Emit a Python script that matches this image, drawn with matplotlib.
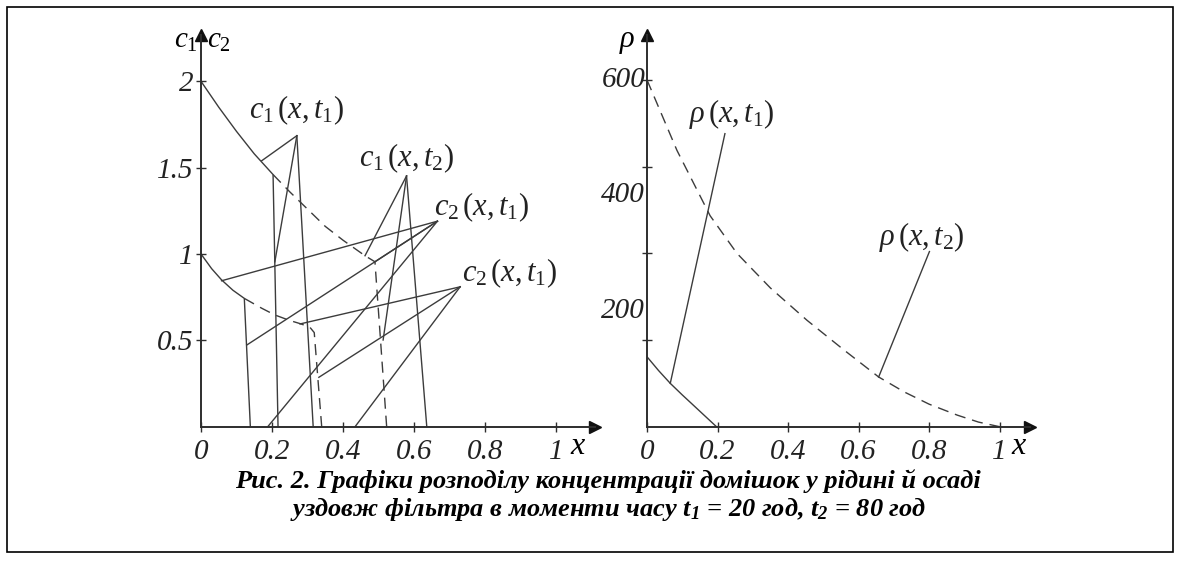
import matplotlib.pyplot as plt
from matplotlib.patches import Rectangle

plt.rcParams['mathtext.fontset'] = 'custom'
plt.rcParams['mathtext.it'] = 'Liberation Serif:italic'
plt.rcParams['mathtext.rm'] = 'Liberation Serif'
plt.rcParams['mathtext.bf'] = 'Liberation Serif:bold:italic'

# --- left panel: c1, c2 ---
c1_t1_x = [0, 0.05, 0.10, 0.15, 0.203, 0.217]
c1_t1_y = [2.0, 1.85, 1.71, 1.58, 1.46, 0]
c1_t2_x = [0.203, 0.25, 0.30, 0.35, 0.40, 0.462, 0.49, 0.523]
c1_t2_y = [1.46, 1.36, 1.26, 1.16, 1.08, 0.99, 0.955, 0]
c2_t1_x = [0, 0.03, 0.058, 0.09, 0.122, 0.139]
c2_t1_y = [1.0, 0.915, 0.85, 0.79, 0.743, 0]
c2_t2_x = [0.122, 0.171, 0.208, 0.25, 0.282, 0.307, 0.319, 0.34]
c2_t2_y = [0.743, 0.686, 0.647, 0.615, 0.595, 0.575, 0.545, 0]

# leader lines: apex -> targets
left_leaders = [
    ((0.27, 1.685), [(0.171, 1.54), (0.208, 0.955), (0.316, 0)]),
    ((0.579, 1.452), [(0.462, 0.99), (0.513, 0.502), (0.636, 0)]),
    ((0.666, 1.19), [(0.058, 0.845), (0.129, 0.473), (0.49, 0.955), (0.188, 0)]),
    ((0.73, 0.81), [(0.279, 0.595), (0.332, 0.286), (0.434, 0)]),
]
left_labels = [r'$c_1\,(x,t_1)$', r'$c_1\,(x,t_2)$',
               r'$c_2\,(x,t_1)$', r'$c_2\,(x,t_1)$']
left_label_pos = [(0.27, 1.83), (0.58, 1.556), (0.79, 1.272), (0.87, 0.89)]
left_xticks = [0, 0.2, 0.4, 0.6, 0.8, 1]
left_xticklabels = ['0', '0.2', '0.4', '0.6', '0.8', '1']
left_yticks = [0.5, 1, 1.5, 2]
left_yticklabels = ['0.5', '1', '1.5', '2']

# --- right panel: rho ---
rho_t1_x = [0, 0.033, 0.066, 0.1, 0.123, 0.16, 0.197]
rho_t1_y = [121, 97, 75, 55, 42, 21, 0]
rho_t2_x = [0, 0.085, 0.179, 0.255, 0.35, 0.454, 0.558, 0.657, 0.73, 0.8, 0.88, 0.94, 1.0]
rho_t2_y = [600, 478, 365, 300, 240, 184, 133, 86, 60, 39, 20, 8, 0]
right_leaders = [((0.221, 507), (0.066, 75)), ((0.801, 303), (0.657, 86))]
right_labels = [r'$\rho\,(x,t_1)$', r'$\rho\,(x,t_2)$']
right_label_pos = [(0.24, 541), (0.779, 329)]
right_xticks = [0, 0.2, 0.4, 0.6, 0.8, 1]
right_yticks = [150, 300, 450, 600]
right_ylabels = [200, 400, 600]

line_col = '#3c3c3c'
axis_col = '#2e2e2e'
lw = 1.0
dash = (0, (8, 5))
tick_font = dict(family='Liberation Serif', style='italic', size=21, color='#222222')
lab_size = 22

fig = plt.figure(figsize=(11.81, 5.63), dpi=100)
W, H = 1181, 563


def fx(px):
    return px / W


def fy(py):
    return 1 - py / H


def setup(ax):
    for s in ['top', 'right']:
        ax.spines[s].set_visible(False)
    for s in ['left', 'bottom']:
        ax.spines[s].set_color(axis_col)
        ax.spines[s].set_linewidth(1.4)
    ax.tick_params(direction='inout', length=7, width=1.0, color=axis_col, pad=2)
    ax.tick_params(axis='x', pad=5)
    ax.plot(1, 0, '>', color='#111111', ms=9, transform=ax.transAxes, clip_on=False)
    ax.plot(0, 1, '^', color='#111111', ms=9, transform=ax.transAxes, clip_on=False)
    ax.set_facecolor('none')


# left axes: x 0 at 201px, 355 px/unit; y 0 at 426.7px, 172.7 px/unit
ax1 = fig.add_axes([fx(201), 1 - 426.7 / H, 394 / W, 391.7 / H])
ax1.set_xlim(0, 394 / 355)
ax1.set_ylim(0, 391.7 / 172.7)
setup(ax1)
ax1.plot(c1_t1_x, c1_t1_y, color=line_col, lw=lw)
ax1.plot(c1_t2_x, c1_t2_y, color=line_col, lw=lw, linestyle=dash)
ax1.plot(c2_t1_x, c2_t1_y, color=line_col, lw=lw)
ax1.plot(c2_t2_x, c2_t2_y, color=line_col, lw=lw, linestyle=dash)
for apex, targets in left_leaders:
    for t in targets:
        ax1.plot([apex[0], t[0]], [apex[1], t[1]], color=line_col, lw=lw)
for txt, (x, y) in zip(left_labels, left_label_pos):
    ax1.text(x, y, txt, ha='center', va='center', fontsize=lab_size, color='#222222')
ax1.set_xticks(left_xticks)
ax1.set_xticklabels(left_xticklabels, fontdict=tick_font)
ax1.set_yticks(left_yticks)
ax1.set_yticklabels(left_yticklabels, fontdict=tick_font)

# right axes: x 0 at 647px, 352.6 px/unit; y 0 at 426.7px, 0.578 px/unit
ax2 = fig.add_axes([fx(647), 1 - 426.7 / H, 383 / W, 391.7 / H])
ax2.set_xlim(0, 383 / 352.6)
ax2.set_ylim(0, 391.7 / 0.578)
setup(ax2)
ax2.plot(rho_t1_x, rho_t1_y, color=line_col, lw=lw)
ax2.plot(rho_t2_x, rho_t2_y, color=line_col, lw=lw, linestyle=dash)
for (a, b) in right_leaders:
    ax2.plot([a[0], b[0]], [a[1], b[1]], color=line_col, lw=lw)
for txt, (x, y) in zip(right_labels, right_label_pos):
    ax2.text(x, y, txt, ha='center', va='center', fontsize=lab_size, color='#222222')
ax2.set_xticks(right_xticks)
ax2.set_xticklabels(left_xticklabels, fontdict=tick_font)
ax2.set_yticks(right_yticks)
ax2.set_yticklabels([])
for v in right_ylabels:
    ax2.text(-0.005, v, str(v), ha='right', va='center', **tick_font)

# axis names
fig.text(fx(186), fy(40), r'$c_1$', fontsize=lab_size - 1, ha='center', va='center')
fig.text(fx(219), fy(40), r'$c_2$', fontsize=lab_size - 1, ha='center', va='center')
fig.text(fx(578), fy(446), r'$x$', fontsize=lab_size + 1, ha='center', va='center')
fig.text(fx(627), fy(42), r'$\rho$', fontsize=lab_size, ha='center', va='center')
fig.text(fx(1019), fy(446), r'$x$', fontsize=lab_size + 1, ha='center', va='center')

# caption
cap = dict(family='Liberation Serif', style='italic', weight='bold', size=19,
           ha='center', va='center', color='black')
fig.text(fx(608), fy(481), 'Рис. 2. Графіки розподілу концентрації домішок у рідині й осаді', **cap)
fig.text(fx(608), fy(509), r'уздовж фільтра в моменти часу $\mathbf{t_1}$ = 20 год, $\mathbf{t_2}$ = 80 год', **cap)

# frame
fig.patches.append(Rectangle((fx(7), fy(552)), fx(1166), (545) / H, transform=fig.transFigure,
                             fill=False, edgecolor='black', linewidth=1.2))

fig.savefig('out.png', dpi=100)
